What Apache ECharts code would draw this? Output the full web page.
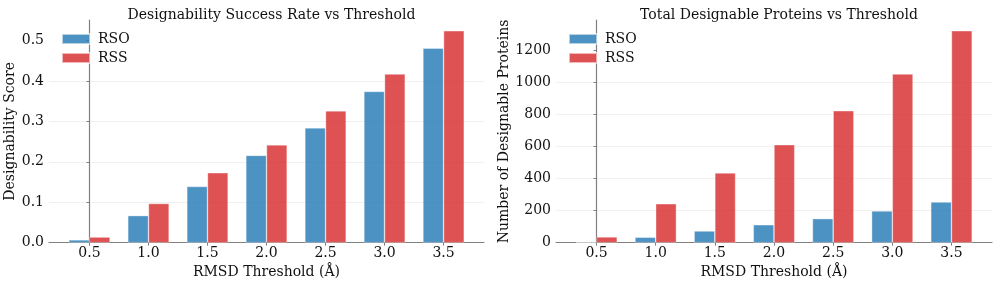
<!DOCTYPE html>
<html>
<head>
<meta charset="utf-8">
<script src="https://cdn.jsdelivr.net/npm/echarts@6/dist/echarts.min.js"></script>
<style>html,body{margin:0;padding:0;background:#fff}#c{width:997px;height:285px}</style>
</head>
<body>
<div id="c"></div>
<script>
const thresholds = ['0.5', '1.0', '1.5', '2.0', '2.5', '3.0', '3.5'];
const rsoScore = [0.007, 0.067, 0.139, 0.216, 0.284, 0.374, 0.481];
const rssScore = [0.014, 0.097, 0.173, 0.242, 0.326, 0.417, 0.524];
const rsoCount = [3, 34, 73, 112, 150, 198, 254];
const rssCount = [36, 243, 435, 611, 823, 1052, 1322];
const scoreTicks = [0, 0.1, 0.2, 0.3, 0.4, 0.5];
const countTicks = [0, 200, 400, 600, 800, 1000, 1200];
const seriesNames = ['RSO', 'RSS'];

const FONT = 'DejaVu Serif';
const BLUE = 'rgba(31,119,180,0.8)';
const RED = 'rgba(214,39,40,0.8)';
const idx = thresholds.map((_, i) => i);
const pair = arr => arr.map((v, i) => [i, v]);

function xAxis(gi) {
  return {
    type: 'value', gridIndex: gi, min: -0.685, max: 6.685,
    name: 'RMSD Threshold (Å)', nameLocation: 'middle', nameGap: 20,
    nameTextStyle: { fontFamily: FONT, fontSize: 14, color: '#111' },
    axisLine: { show: true, lineStyle: { color: '#808080', width: 1.2 } },
    axisTick: { show: true, length: 3, customValues: idx, lineStyle: { color: '#808080' } },
    axisLabel: { customValues: idx, formatter: v => thresholds[Math.round(v)], fontFamily: FONT, fontSize: 14, color: '#111', margin: 4 },
    splitLine: { show: false }
  };
}
function yAxis(gi, max, ticks, name, fmt, gap) {
  return {
    type: 'value', gridIndex: gi, min: 0, max: max, interval: ticks[1] - ticks[0],
    name: name, nameLocation: 'middle', nameGap: gap,
    nameTextStyle: { fontFamily: FONT, fontSize: 14, color: '#111' },
    axisLine: { show: true, lineStyle: { color: '#808080', width: 1.2 } },
    axisTick: { show: true, length: 3, customValues: ticks, lineStyle: { color: '#808080' } },
    axisLabel: { customValues: ticks, formatter: fmt, fontFamily: FONT, fontSize: 14, color: '#111', margin: 5 },
    splitLine: { show: true, showMaxLine: false, lineStyle: { color: '#ececec', width: 0.8 } }
  };
}
function bar(name, data, color, gi) {
  return {
    type: 'bar', name: name, xAxisIndex: gi, yAxisIndex: gi, data: data,
    barWidth: '35%', barGap: '0%',
    itemStyle: { color: color, borderColor: 'rgba(255,255,255,0.6)', borderWidth: 0.6 },
    emphasis: { disabled: true }
  };
}
function legend(left) {
  return {
    left: left, top: 27, orient: 'vertical', itemWidth: 28, itemHeight: 10, itemGap: 5,
    data: seriesNames.map(n => ({ name: n, icon: 'rect' })),
    textStyle: { fontFamily: FONT, fontSize: 14, color: '#111', padding: [0, 0, 0, 3] },
    selectedMode: false
  };
}

const chart = echarts.init(document.getElementById('c'), null, { renderer: 'canvas' });
chart.setOption({
  animation: false,
  color: [BLUE, RED],
  title: [
    { text: 'Designability Success Rate vs Threshold', left: 266.5, textAlign: 'center', top: 3, textStyle: { fontFamily: FONT, fontSize: 14, fontWeight: 'normal', color: '#111' } },
    { text: 'Total Designable Proteins vs Threshold', left: 774, textAlign: 'center', top: 3, textStyle: { fontFamily: FONT, fontSize: 14, fontWeight: 'normal', color: '#111' } }
  ],
  legend: [legend(56), legend(563)],
  grid: [
    { left: 49, right: 513, top: 20, bottom: 42.3 },
    { left: 556, right: 5, top: 20, bottom: 42.3 }
  ],
  xAxis: [xAxis(0), xAxis(1)],
  yAxis: [
    yAxis(0, 0.5507, scoreTicks, 'Designability Score', v => v.toFixed(1), 31),
    yAxis(1, 1389, countTicks, 'Number of Designable Proteins', v => String(v), 43)
  ],
  series: [
    bar('RSO', pair(rsoScore), BLUE, 0),
    bar('RSS', pair(rssScore), RED, 0),
    bar('RSO', pair(rsoCount), BLUE, 1),
    bar('RSS', pair(rssCount), RED, 1)
  ]
});
</script>
</body>
</html>
